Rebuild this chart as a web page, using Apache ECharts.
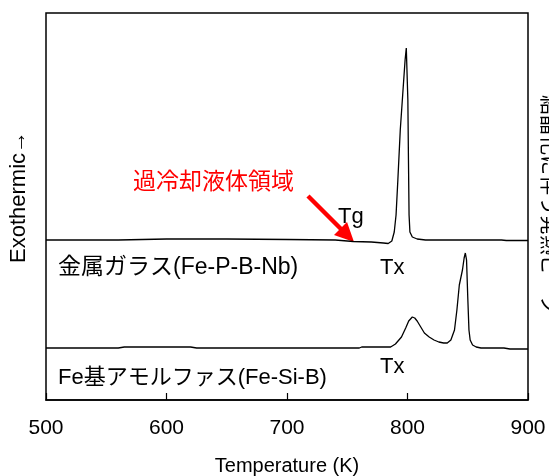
<!DOCTYPE html>
<html><head><meta charset="utf-8">
<script src="https://cdn.jsdelivr.net/npm/echarts@6/dist/echarts.min.js"></script>
<style>html,body{margin:0;padding:0;background:#fff}#c{width:549px;height:476px}</style>
</head><body><div id="c"></div>
<script>
// Temperature (K) and signal (arbitrary exothermic units)
const glassT = [500,520,560,580,600,650,700,740,755,770,780,784,787,789,790.5,792,794,796,798,799,799.8,800.3,800.8,801.3,802,804,808,815,850,878,882,900];
const glassY = [160,160,160,160.5,161,161,160.5,160,158.5,158,157,156.5,159,168,185,220,270,305,340,352,352,300,240,185,168,163,161,160,160,160,159.5,159.5];
const feT = [500,560,565,620,625,760,762,780,786,790,795,798.5,801,804,806,808,811,814,818,822,826,830,833,836,839,841,843,845.6,847,848,849,850,851,852,854,857,861,880,885,900];
const feY = [52,52,53,53,52,52,53,53,53,56,63,72,79,83,82,79,73,67,63,60,58,57,57,60,70,90,115,130,142,147,140,103,70,60,55,53,52,52,51,51];
const xTicks = [500,600,700,800,900];
const labels = {
  glass: "金属ガラス(Fe-P-B-Nb)",
  fe: "Fe基アモルファス(Fe-Si-B)",
  scl: "過冷却液体領域",
  tg: "Tg", tx: "Tx",
  yName: "Exothermic→",
  xName: "Temperature (K)",
  side: "結晶化に伴う発熱ピーク"
};
const FONT = "'Liberation Sans', Arial, 'Noto Sans CJK JP', sans-serif";
const chart = echarts.init(document.getElementById('c'));
const pairs = (a,b)=>a.map((t,i)=>[t,b[i]]);
chart.setOption({
  animation:false,
  backgroundColor:'#fff',
  grid:{left:46,right:21,top:13,bottom:76,show:true,borderColor:'#000',borderWidth:1.5,outerBoundsMode:'none',containLabel:false},
  xAxis:{type:'value',min:xTicks[0],max:xTicks[xTicks.length-1],interval:100,
    axisLine:{show:true,lineStyle:{color:'#000',width:1.5}},
    axisTick:{show:true,inside:true,length:7,lineStyle:{color:'#000',width:1.2}},
    splitLine:{show:false},
    axisLabel:{color:'#000',fontSize:21,fontFamily:FONT,margin:18,showMinLabel:true,showMaxLabel:true},
    name:labels.xName,nameLocation:'middle',nameGap:56,
    nameTextStyle:{color:'#000',fontSize:20,fontFamily:FONT}},
  yAxis:{type:'value',min:0,max:387,show:false},
  series:[
    {type:'line',data:pairs(glassT,glassY),symbol:'none',lineStyle:{color:'#000',width:1.3}},
    {type:'line',data:pairs(feT,feY),symbol:'none',lineStyle:{color:'#000',width:1.3}}
  ],
  graphic:[
    {type:'text',left:58,top:256,style:{text:labels.glass,fontSize:23,fontFamily:FONT,fill:'#000'}},
    {type:'text',left:380,top:257,style:{text:labels.tx,fontSize:22,fontFamily:FONT,fill:'#000'}},
    {type:'text',left:380,top:356,style:{text:labels.tx,fontSize:22,fontFamily:FONT,fill:'#000'}},
    {type:'text',left:58,top:367,style:{text:labels.fe,fontSize:22,fontFamily:FONT,fill:'#000'}},
    {type:'text',left:338,top:206,style:{text:labels.tg,fontSize:22,fontFamily:FONT,fill:'#000'}},
    {type:'text',left:133,top:171,style:{text:labels.scl,fontSize:23,fontFamily:FONT,fill:'#ff0000'}},
    {type:'line',shape:{x1:308,y1:196,x2:343,y2:231},style:{stroke:'#ff0000',lineWidth:4.5}},
    {type:'polygon',shape:{points:[[354,242],[334,235],[347,222]]},style:{fill:'#ff0000'}},
    {type:'text',x:19,y:197,rotation:Math.PI/2,style:{text:labels.yName,fontSize:22,fontFamily:FONT,fill:'#000',align:'center',verticalAlign:'middle'}},
    {type:'text',x:548,y:205,rotation:-Math.PI/2,style:{text:labels.side,fontSize:20,fontFamily:FONT,fill:'#000',align:'center',verticalAlign:'middle'}}
  ]
});
</script></body></html>
